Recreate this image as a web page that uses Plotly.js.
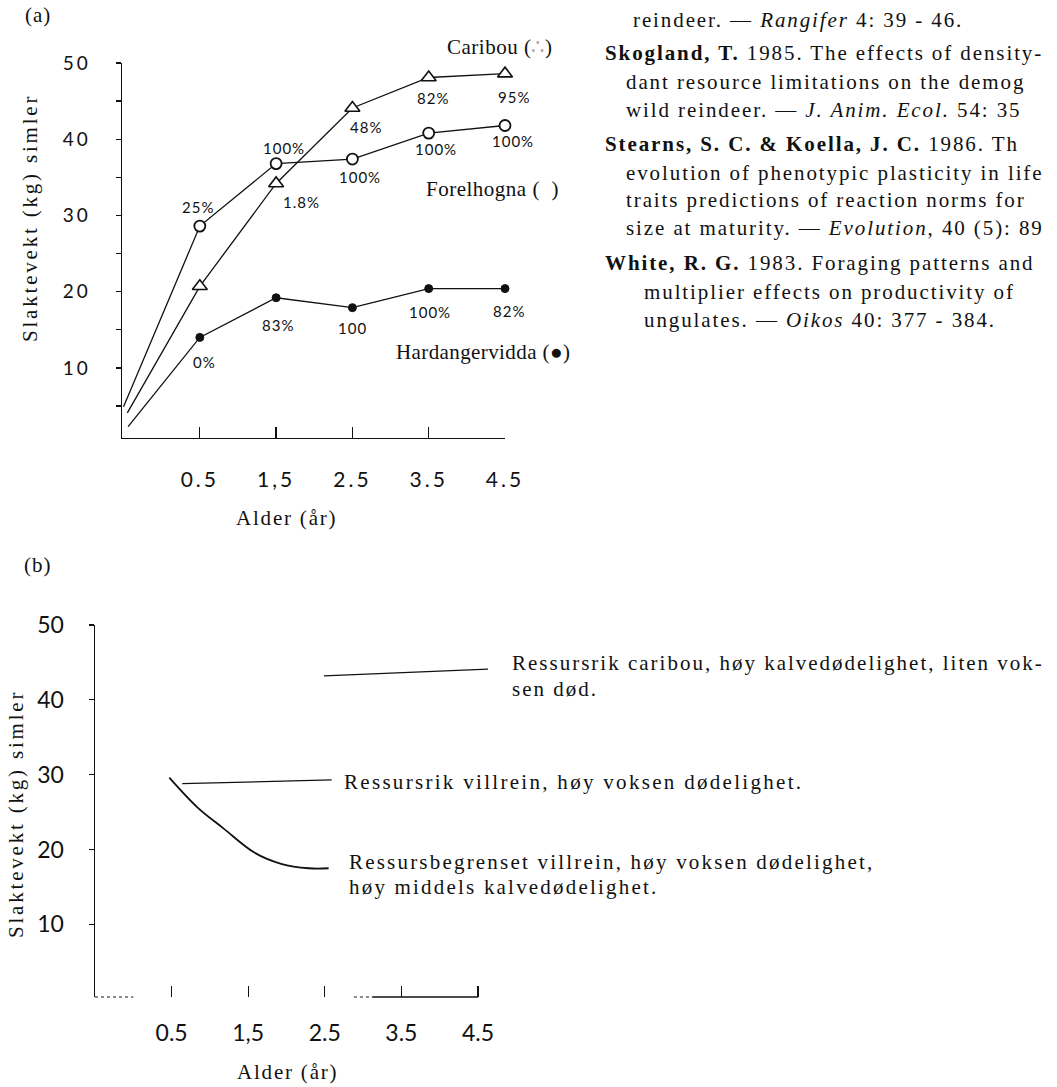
<!DOCTYPE html>
<html><head><meta charset="utf-8">
<script src="https://cdn.plot.ly/plotly-3.0.1.min.js"></script>
<style>
html,body{margin:0;padding:0;background:#fff;}
#chart{width:1057px;height:1087px;}
.xtick text,.ytick text{letter-spacing:3px;}
</style></head><body><div id="chart"></div>
<script>
// ---------- data, panel (a) ----------
const ages = [0.5, 1.5, 2.5, 3.5, 4.5];
const aTickText = ["0.5", "1,5", "2.5", "3.5", "4.5"];
const bTickText = ["0.5", "1,5", "2.5", "3.5", "4.5"];
const aYTickVals = [5, 10, 15, 20, 25, 30, 35, 40, 45, 50];
const aYTickText = ["", "10", "", "20", "", "30", "", "40", "", "50"];
const bYTickVals = [10, 20, 30, 40, 50];
const bYTickText = ["10", "20", "30", "40", "50"];

const forelhognaStart = [-0.5, 4.9];
const forelhognaY = [28.6, 36.8, 37.4, 40.8, 41.8];
const forelhognaPct = ["25%", "100%", "100%", "100%", "100%"];

const caribouStart = [-0.45, 4.1];
const caribouY = [20.7, 34.2, 44.1, 48.1, 48.6];
const caribouPct = ["", "1.8%", "48%", "82%", "95%"];

const hardangerStart = [-0.44, 2.3];
const hardangerY = [14.0, 19.2, 17.9, 20.4, 20.4];
const hardangerPct = ["0%", "83%", "100", "100%", "82%"];

// ---------- data, panel (b) ----------
const bCaribouX = [2.49, 4.63];
const bCaribouY = [43.2, 44.1];
const bVillreinX = [0.64, 2.59];
const bVillreinY = [28.8, 29.3];
const bLimitedX = [0.47, 0.84, 1.18, 1.58, 1.93, 2.29, 2.55];
const bLimitedY = [29.6, 25.6, 22.8, 19.6, 18.1, 17.5, 17.5];

const bibLines = [
  "reindeer. — <i>Rangifer</i> 4: 39 - 46.",
  "<b>Skogland, T.</b> 1985. The effects of density-",
  "dant resource limitations on the demog",
  "wild reindeer. — <i>J. Anim. Ecol.</i> 54: 35",
  "<b>Stearns, S. C. &amp; Koella, J. C.</b> 1986. Th",
  "evolution of phenotypic plasticity in life",
  "traits predictions of reaction norms for",
  "size at maturity. — <i>Evolution</i>, 40 (5): 89",
  "<b>White, R. G.</b> 1983. Foraging patterns and",
  "multiplier effects on productivity of",
  "ungulates. — <i>Oikos</i> 40: 377 - 384."
];

// ---------- layout helpers (pixels -> paper) ----------
const W = 1057, H = 1087;
const px = v => v / W, py = v => 1 - v / H;
const SERIF = {family: "Liberation Serif, Times New Roman, serif", size: 21, color: "#111"};
const HAND = {family: "Lato, Open Sans, sans-serif", size: 15, color: "#111"};
const TICKA = {family: "Lato, Open Sans, sans-serif", size: 19, color: "#111"};
const TICKAX = {family: "Lato, Open Sans, sans-serif", size: 21, color: "#111"};
const TICKB = {family: "Lato, Open Sans, sans-serif", size: 23, color: "#111"};
const INK = "#111";

function sp(text, ls) { return "<span style='letter-spacing:" + ls + "px'>" + text + "</span>"; }
function txt(text, x, y, ls, xanchor, extra) {
  return Object.assign({text: sp(text, ls), x: px(x), y: py(y), xref: "paper", yref: "paper",
    xanchor: xanchor || "left", yanchor: "middle", showarrow: false, font: SERIF}, extra || {});
}

// ---------- traces ----------
function lineTrace(x, y, xa, ya, w, shape) {
  return {x: x, y: y, xaxis: xa, yaxis: ya, mode: "lines", type: "scatter", hoverinfo: "skip",
    line: {color: INK, width: w || 1.3, shape: shape || "linear", smoothing: 1}};
}
const traces = [
  lineTrace([forelhognaStart[0]].concat(ages), [forelhognaStart[1]].concat(forelhognaY), "x", "y"),
  lineTrace([caribouStart[0]].concat(ages), [caribouStart[1]].concat(caribouY), "x", "y"),
  lineTrace([hardangerStart[0]].concat(ages), [hardangerStart[1]].concat(hardangerY), "x", "y"),
  {x: ages, y: forelhognaY, xaxis: "x", yaxis: "y", mode: "markers", type: "scatter", cliponaxis: false,
    marker: {symbol: "circle", size: 11, color: "#fff", line: {color: INK, width: 1.8}}},
  {x: ages, y: caribouY, xaxis: "x", yaxis: "y", mode: "markers", type: "scatter", cliponaxis: false,
    marker: {symbol: "triangle-up", size: 13, color: "#fff", line: {color: INK, width: 1.6}}},
  {x: ages, y: hardangerY, xaxis: "x", yaxis: "y", mode: "markers", type: "scatter", cliponaxis: false,
    marker: {symbol: "circle", size: 8, color: INK, line: {color: INK, width: 1}}},
  lineTrace(bCaribouX, bCaribouY, "x2", "y2"),
  lineTrace(bVillreinX, bVillreinY, "x2", "y2"),
  lineTrace(bLimitedX, bLimitedY, "x2", "y2", 1.8, "spline")
];

// ---------- annotations ----------
const ann = [];
const fOff = [[-2, 19], [8, 16], [8, -18], [7, -16], [8, -15]];
const cOff = [[0, 0], [25, -19], [14, -19], [4, -21], [9, -23]];
const hOff = [[5, -25], [2, -27], [0, -20], [1, -23], [4, -22]];
function pct(labels, vals, offs) {
  labels.forEach((t, i) => {
    if (!t) return;
    ann.push({text: sp(t, 1), x: ages[i], y: vals[i], xref: "x", yref: "y", showarrow: false,
      xshift: offs[i][0], yshift: offs[i][1], font: HAND, xanchor: "center", yanchor: "middle"});
  });
}
pct(forelhognaPct, forelhognaY, fOff);
pct(caribouPct, caribouY, cOff);
pct(hardangerPct, hardangerY, hOff);

ann.push(txt("(a)", 23, 15, 1));
ann.push(txt("Caribou (<span style='color:#aaa'>∴</span>)", 445, 47, 0.5));
ann.push(txt("Forelhogna (  )", 424, 189, 0.5));
ann.push(txt("Hardangervidda (●)", 394, 352, 0.4));
ann.push(txt("Slaktevekt (kg) simler", 30, 218, 2.8, "center", {textangle: -90}));
ann.push(txt("Alder (år)", 286, 518, 1.8, "center"));

ann.push(txt("(b)", 22, 565, 1));
ann.push(txt("Slaktevekt (kg) simler", 16, 814, 2.8, "center", {textangle: -90}));
ann.push(txt("Alder (år)", 287, 1072, 1.8, "center"));
ann.push(txt("Ressursrik caribou, høy kalvedødelighet, liten vok-", 510, 663, 2.0));
ann.push(txt("sen død.", 510, 689, 2.0));
ann.push(txt("Ressursrik villrein, høy voksen dødelighet.", 342, 782, 2.3));
ann.push(txt("Ressursbegrenset villrein, høy voksen dødelighet,", 347, 862, 2.2));
ann.push(txt("høy middels kalvedødelighet.", 347, 887, 2.2));

const bibX = [631, 603, 624, 624, 603, 624, 624, 624, 603, 642, 642];
const bibY = [20, 53, 82, 110, 144, 173, 200, 228, 263, 292, 320];
bibLines.forEach((t, i) => ann.push(txt(t, bibX[i], bibY[i], 1.9)));

// ---------- panel (b) broken x-axis ----------
const bAxisPieces = [[-0.5, 0.0, "dot"], [2.88, 3.12, "dot"], [3.12, 4.5, "solid"]];
const shapes = bAxisPieces.map(p => ({type: "line", xref: "x2", yref: "y2 domain",
  x0: p[0], x1: p[1], y0: 0, y1: 0, line: {color: p[2] === "solid" ? INK : "#666", width: 1.3, dash: p[2]}}));

const axBase = {showgrid: false, zeroline: false, fixedrange: true, tickcolor: INK, linecolor: INK};
const layout = {
  width: W, height: H, margin: {l: 0, r: 0, t: 0, b: 0},
  paper_bgcolor: "#fff", plot_bgcolor: "rgba(0,0,0,0)", showlegend: false,
  xaxis: Object.assign({}, axBase, {domain: [px(122), px(505)], range: [-0.52, 4.5], anchor: "y",
    showline: true, linewidth: 1.3, ticks: "inside", ticklen: 11, tickwidth: 1.3,
    tickvals: ages, ticktext: aTickText, tickfont: TICKAX, ticklabelstandoff: 22}),
  xaxis3: Object.assign({}, axBase, {overlaying: "x", anchor: "y", range: [-0.52, 4.5],
    showline: false, ticks: "outside", ticklen: 4, tickwidth: 1.3, tickvals: ages, showticklabels: false}),
  yaxis: Object.assign({}, axBase, {domain: [py(438), py(63)], range: [0.8, 50], anchor: "x",
    showline: true, linewidth: 1.5, ticks: "outside", ticklen: 5, tickwidth: 1.3,
    tickvals: aYTickVals, ticktext: aYTickText, tickfont: TICKA, ticklabelstandoff: 21}),
  yaxis3: Object.assign({}, axBase, {overlaying: "y", anchor: "x", range: [0.8, 50],
    showline: false, ticks: "inside", ticklen: 5, tickwidth: 1.3, tickvals: aYTickVals, showticklabels: false}),
  xaxis2: Object.assign({}, axBase, {domain: [px(95), px(95 + 5.2 * 76.6)], range: [-0.5, 4.7], anchor: "y2",
    showline: false, ticks: "inside", ticklen: 11, tickwidth: 1.3,
    tickvals: ages, ticktext: bTickText, tickfont: TICKB, ticklabelstandoff: 20}),
  yaxis2: Object.assign({}, axBase, {domain: [py(997), py(625)], range: [0.3, 50], anchor: "x2",
    showline: true, linewidth: 1.5, ticks: "outside", ticklen: 5, tickwidth: 1.3,
    tickvals: bYTickVals, ticktext: bYTickText, tickfont: TICKB, ticklabelstandoff: 20}),
  yaxis4: Object.assign({}, axBase, {overlaying: "y2", anchor: "x2", range: [0.3, 50],
    showline: false, ticks: "inside", ticklen: 5, tickwidth: 1.3, tickvals: bYTickVals, showticklabels: false}),
  annotations: ann,
  shapes: shapes
};
Plotly.newPlot("chart", traces, layout, {staticPlot: true, displayModeBar: false});
</script></body></html>
